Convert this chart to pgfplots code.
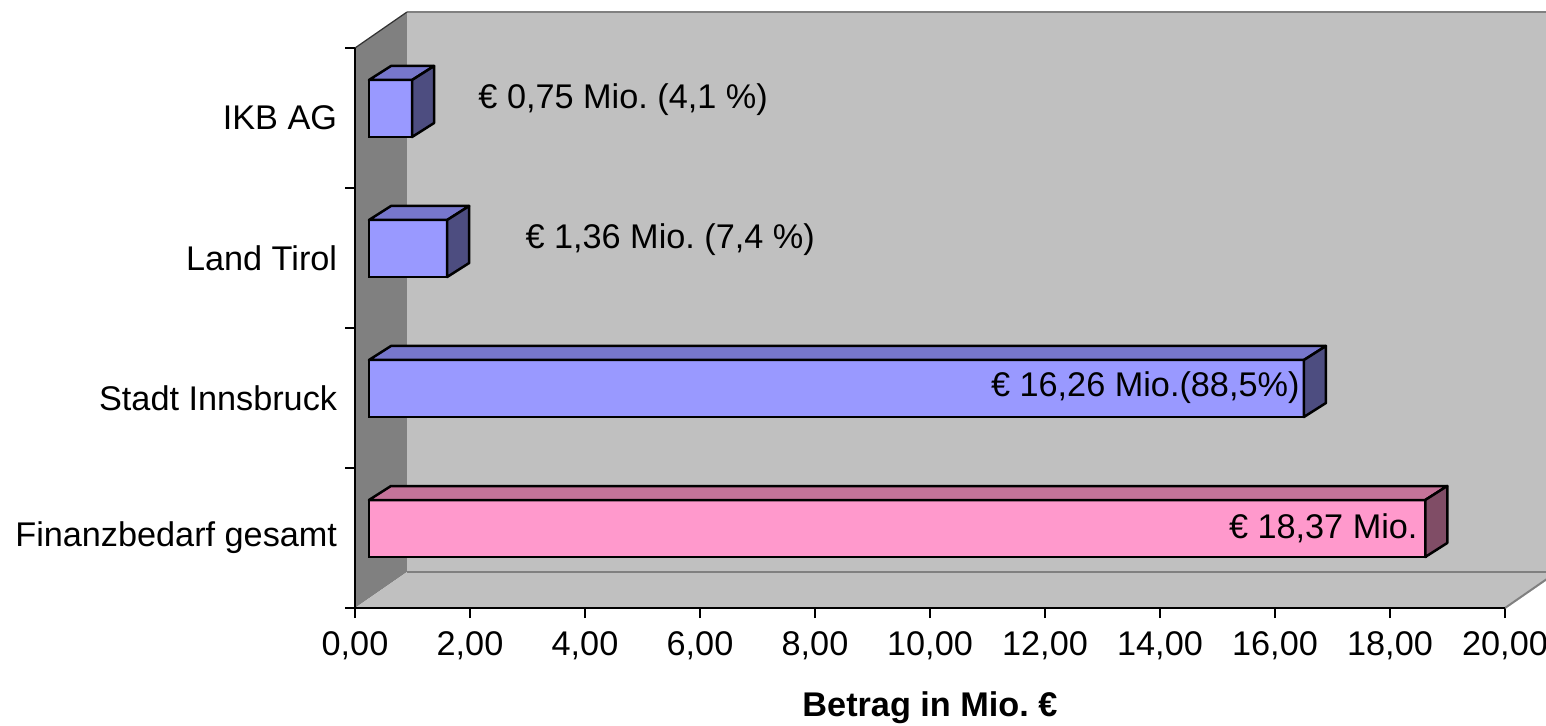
\documentclass[border=0pt]{standalone}
\usepackage{fontspec}
\setmainfont{Liberation Sans}
\usepackage{pgfplots}
\pgfplotsset{compat=1.18}

\definecolor{wallback}{HTML}{C0C0C0}
\definecolor{wallside}{HTML}{808080}
\definecolor{edgegray}{HTML}{808080}
\definecolor{bluefront}{HTML}{9999FF}
\definecolor{bluetop}{HTML}{7777CC}
\definecolor{blueside}{HTML}{4D4D80}
\definecolor{pinkfront}{HTML}{FF99CC}
\definecolor{pinktop}{HTML}{C47399}
\definecolor{pinkside}{HTML}{804D66}

% 3D geometry in data units
\def\bx{0.243}                   % bar front face starts here
\def\bdx{0.383}\def\bdy{0.1}     % depth of a bar

% top and side face of a bar: value, bottom, top, top colour, side colour
\newcommand{\barfaces}[5]{%
  \draw[fill=#4, line width=1pt, line join=round]
    (axis cs:\bx,#3) -- (axis cs:{\bx+#1},#3) -- (axis cs:{\bx+#1+\bdx},{#3+\bdy})
    -- (axis cs:{\bx+\bdx},{#3+\bdy}) -- cycle;
  \draw[fill=#5, line width=1pt, line join=round]
    (axis cs:{\bx+#1},#2) -- (axis cs:{\bx+#1+\bdx},{#2+\bdy})
    -- (axis cs:{\bx+#1+\bdx},{#3+\bdy}) -- (axis cs:{\bx+#1},#3) -- cycle;
}

\begin{document}
\fontsize{13.7pt}{16pt}\selectfont\frenchspacing
\begin{tikzpicture}
\begin{axis}[
    at={(0,0)}, anchor=south west,
    scale only axis,
    width=460pt, height=224pt,
    xmin=0, xmax=20, ymin=0, ymax=4,
    clip=false,
    axis line style={draw=none},
    xtick={0,2,...,20},
    ytick={0.5,1.5,2.5,3.5},
    yticklabels={Finanzbedarf gesamt, Stadt Innsbruck, Land Tirol, IKB AG},
    xtick pos=bottom, ytick pos=left,
    tick align=outside,
    major tick length=4pt,
    ytick style={draw=none},
    xtick style={black, line width=0.8pt},
    scaled x ticks=false,
    yticklabel style={xshift=1.6pt},
    xticklabel style={yshift=-0.8pt,
      /pgf/number format/.cd, fixed, fixed zerofill, precision=2, use comma, assume math mode=true},
]
% walls and floor
\fill[wallback] (axis cs:0.904,0.257) rectangle (axis cs:20.904,4.257);
\fill[wallside] (axis cs:0,0) -- (axis cs:0.904,0.257) -- (axis cs:0.904,4.257) -- (axis cs:0,4) -- cycle;
\fill[wallback] (axis cs:0,0) -- (axis cs:20,0) -- (axis cs:20.904,0.257) -- (axis cs:0.904,0.257) -- cycle;
\draw[edgegray, line width=0.8pt] (axis cs:0.904,0.257) -- (axis cs:20.904,0.257);
\draw[edgegray, line width=0.8pt] (axis cs:20,0) -- (axis cs:20.904,0.257);
\draw[edgegray, line width=0.8pt] (axis cs:0.904,4.257) -- (axis cs:20.904,4.257);
\draw[black!80, line width=0.5pt] (axis cs:0,4) -- (axis cs:0.904,4.257);
\draw[black, line width=0.8pt] (axis cs:0,4) -- (axis cs:0,0) -- (axis cs:20,0);
\pgfplotsinvokeforeach{0,1,2,3,4}{\draw[black, line width=0.8pt] (axis cs:0,#1) -- ++(-4pt,0);}

% bars
\addplot[xbar, bar width=0.407, xshift=5.6pt, yshift=3.8pt,
    fill=bluefront, draw=black, line width=1pt]
    coordinates {(0.75,3.5) (1.36,2.5) (16.26,1.5)};
\addplot[xbar, bar width=0.407, xshift=5.6pt, yshift=3.8pt,
    fill=pinkfront, draw=black, line width=1pt]
    coordinates {(18.37,0.5)};
\barfaces{0.75}{3.3645}{3.7715}{bluetop}{blueside}
\barfaces{1.36}{2.3645}{2.7715}{bluetop}{blueside}
\barfaces{16.26}{1.3645}{1.7715}{bluetop}{blueside}
\barfaces{18.37}{0.3645}{0.7715}{pinktop}{pinkside}

% value labels
\node[anchor=west, inner sep=0pt] at (axis cs:2.139,3.629) {€ 0,75 Mio. (4,1 \%)};
\node[anchor=west, inner sep=0pt] at (axis cs:2.957,2.629) {€ 1,36 Mio. (7,4 \%)};
\node[anchor=east, inner sep=0pt] at (axis cs:16.435,1.571) {€ 16,26 Mio.(88,5\%)};
\node[anchor=east, inner sep=0pt] at (axis cs:18.487,0.571) {€ 18,37 Mio.};

\node[font=\bfseries] at (axis cs:10,0) [yshift=-40pt] {Betrag in Mio. €};
\end{axis}
\pgfresetboundingbox
\path[use as bounding box] (-142pt,-46.8pt) rectangle (476.4pt,243.2pt);
\end{tikzpicture}
\end{document}
